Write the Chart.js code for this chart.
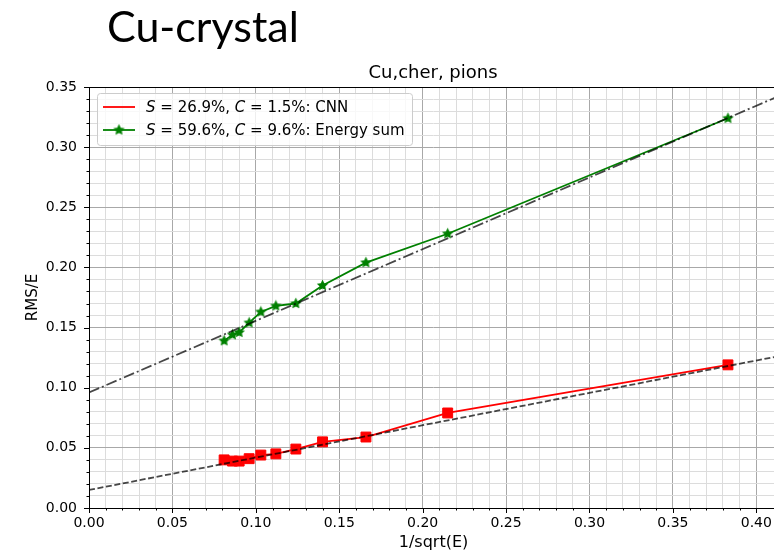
<!DOCTYPE html>
<html>
<head>
<meta charset="utf-8">
<title>Cu-crystal</title>
<script src="https://cdn.jsdelivr.net/npm/chart.js@4.4.1/dist/chart.umd.min.js"></script>
<style>
  html, body { margin: 0; padding: 0; background: #fff; }
  #wrap { position: relative; width: 774px; height: 552px; overflow: hidden; }
  #heading { position: absolute; left: 107px; top: 0px; font: 43px Lato, "Open Sans", sans-serif; color: #000; }
  #chart { position: absolute; left: 0; top: 0; }
</style>
</head>
<body>
<div id="wrap">
  <canvas id="chart" width="786" height="552"></canvas>
  <div id="heading">Cu-crystal</div>
</div>
<script>
// 1/sqrt(E) for each beam energy
const invSqrtE = [0.081, 0.086, 0.090, 0.096, 0.103, 0.112, 0.124, 0.140, 0.166, 0.215, 0.383];
// relative resolution RMS/E
const cnnRms = [0.040, 0.039, 0.039, 0.041, 0.044, 0.045, 0.049, 0.055, 0.059, 0.079, 0.119];
const sumRms = [0.139, 0.144, 0.146, 0.154, 0.163, 0.168, 0.170, 0.185, 0.204, 0.228, 0.324];

// fit results: RMS/E = S/sqrt(E) + C
const cnnFit = { S: 0.269, C: 0.015 };
const sumFit = { S: 0.596, C: 0.096 };

const xRange = [0, 0.413];
const yRange = [0, 0.35];
const tickStep = 0.01;
const labelEvery = 5;

const plotTitle = 'Cu,cher, pions';
const xTitle = '1/sqrt(E)';
const yTitle = 'RMS/E';

const RED = '#ff0000';
const GREEN = '#008000';
const FIT = 'rgba(0,0,0,0.72)';
const MPL_FONT = '"DejaVu Sans", Verdana, sans-serif';

function starMarker(size, fill) {
  const c = document.createElement('canvas');
  c.width = c.height = size;
  const g = c.getContext('2d');
  const r = size / 2, ri = r * 0.45;
  g.beginPath();
  for (let i = 0; i < 10; i++) {
    const rad = i % 2 ? ri : r - 0.5;
    const a = -Math.PI / 2 + i * Math.PI / 5;
    g.lineTo(r + rad * Math.cos(a), r + rad * Math.sin(a));
  }
  g.closePath();
  g.fillStyle = fill;
  g.fill();
  return c;
}
const star = starMarker(13, GREEN);

function fitLine(fit) {
  return xRange.map(x => ({ x, y: fit.C + fit.S * x }));
}
function pct(v) { return (v * 100).toFixed(1) + '%'; }

const isMajor = v => Math.abs(v / tickStep - Math.round(v / tickStep)) < 1e-6 &&
  Math.round(v / tickStep) % labelEvery === 0;

const legendRows = [
  { S: pct(cnnFit.S), C: pct(cnnFit.C), name: 'CNN', color: RED, marker: null },
  { S: pct(sumFit.S), C: pct(sumFit.C), name: 'Energy sum', color: GREEN, marker: star }
];

// spines, tick marks, title and the legend box, drawn the way matplotlib does
const mplDecor = {
  id: 'mplDecor',
  afterDatasetsDraw(chart) {
    const { ctx, chartArea: a, scales: { x, y } } = chart;
    ctx.save();
    ctx.strokeStyle = '#000';
    ctx.lineWidth = 1;
    ctx.strokeRect(a.left + 0.5, a.top + 0.5, a.right - a.left - 1, a.bottom - a.top);

    ctx.beginPath();
    x.ticks.forEach(t => {
      const px = Math.round(x.getPixelForValue(t.value)) + 0.5;
      const len = isMajor(t.value) ? 5 : 2.5;
      ctx.moveTo(px, a.bottom);
      ctx.lineTo(px, a.bottom + len);
    });
    y.ticks.forEach(t => {
      const py = Math.round(y.getPixelForValue(t.value)) + 0.5;
      const len = isMajor(t.value) ? 5 : 2.5;
      ctx.moveTo(a.left, py);
      ctx.lineTo(a.left - len, py);
    });
    ctx.stroke();

    ctx.fillStyle = '#000';
    ctx.font = '18px ' + MPL_FONT;
    ctx.textAlign = 'center';
    ctx.textBaseline = 'alphabetic';
    ctx.fillText(plotTitle, 433, a.top - 9);
    ctx.restore();
  },
  afterDraw(chart) {
    const { ctx } = chart;
    const box = { x: 97, y: 93, w: 315, h: 52 };
    ctx.save();
    ctx.fillStyle = 'rgba(255,255,255,0.8)';
    ctx.strokeStyle = '#cccccc';
    ctx.lineWidth = 1;
    ctx.beginPath();
    ctx.roundRect(box.x + 0.5, box.y + 0.5, box.w, box.h, 3);
    ctx.fill();
    ctx.stroke();

    const rowY = [107, 130];
    ctx.textBaseline = 'middle';
    ctx.textAlign = 'left';
    legendRows.forEach((row, i) => {
      const yy = rowY[i];
      ctx.strokeStyle = row.color;
      ctx.lineWidth = 1.8;
      ctx.beginPath();
      ctx.moveTo(103, yy);
      ctx.lineTo(135, yy);
      ctx.stroke();
      if (row.marker) ctx.drawImage(row.marker, 119 - row.marker.width / 2, yy - row.marker.height / 2);

      const parts = [
        ['S', true], [' = ' + row.S + ', ', false], ['C', true], [' = ' + row.C + ': ' + row.name, false]
      ];
      let tx = 146;
      ctx.fillStyle = '#000';
      parts.forEach(([txt, it]) => {
        ctx.font = (it ? 'italic ' : '') + '15px ' + MPL_FONT;
        ctx.fillText(txt, tx, yy + 1);
        tx += ctx.measureText(txt).width;
      });
    });
    ctx.restore();
  }
};

const gridColor = ctx => isMajor(ctx.tick.value) ? '#a8a8a8' : '#dcdcdc';
const tickLabel = v => isMajor(v) ? Number(v).toFixed(2) : '';

new Chart(document.getElementById('chart'), {
  type: 'scatter',
  data: {
    datasets: [
      {
        label: 'CNN fit',
        data: fitLine(cnnFit),
        showLine: true,
        borderColor: FIT,
        borderWidth: 1.8,
        borderDash: [6, 2.6],
        pointRadius: 0
      },
      {
        label: 'Energy sum fit',
        data: fitLine(sumFit),
        showLine: true,
        borderColor: FIT,
        borderWidth: 1.8,
        borderDash: [11, 3, 2, 3],
        pointRadius: 0
      },
      {
        label: 'CNN',
        data: invSqrtE.map((x, i) => ({ x, y: cnnRms[i] })),
        showLine: true,
        borderColor: RED,
        backgroundColor: RED,
        borderWidth: 1.8,
        pointStyle: 'rect',
        pointRadius: 7,
        pointBorderWidth: 1,
        pointBorderColor: RED,
        pointBackgroundColor: RED
      },
      {
        label: 'Energy sum',
        data: invSqrtE.map((x, i) => ({ x, y: sumRms[i] })),
        showLine: true,
        borderColor: GREEN,
        backgroundColor: GREEN,
        borderWidth: 1.8,
        pointStyle: star,
        pointRadius: 6
      }
    ]
  },
  options: {
    responsive: false,
    animation: false,
    layout: { padding: { top: 87, left: 0, right: 0, bottom: 0 } },
    plugins: {
      legend: { display: false },
      tooltip: { enabled: false },
      title: { display: false }
    },
    scales: {
      x: {
        type: 'linear',
        min: xRange[0],
        max: xRange[1],
        afterFit: s => { s.height = 44; },
        grid: { color: gridColor, lineWidth: 1, drawTicks: false },
        border: { display: false },
        ticks: {
          stepSize: tickStep,
          autoSkip: false,
          maxRotation: 0,
          padding: 7,
          color: '#000',
          font: { family: MPL_FONT, size: 14 },
          callback: tickLabel
        },
        title: {
          display: true,
          text: xTitle,
          color: '#000',
          font: { family: MPL_FONT, size: 16 },
          padding: { top: 0, bottom: 0 }
        }
      },
      y: {
        type: 'linear',
        min: yRange[0],
        max: yRange[1],
        afterFit: s => { s.width = 89; },
        grid: { color: gridColor, lineWidth: 1, drawTicks: false },
        border: { display: false },
        ticks: {
          stepSize: tickStep,
          autoSkip: false,
          padding: 12,
          color: '#000',
          font: { family: MPL_FONT, size: 14 },
          callback: tickLabel
        },
        title: {
          display: true,
          text: yTitle,
          color: '#000',
          font: { family: MPL_FONT, size: 15 },
          padding: { top: 24, bottom: 0 }
        }
      }
    }
  },
  plugins: [mplDecor]
});
</script>
</body>
</html>
